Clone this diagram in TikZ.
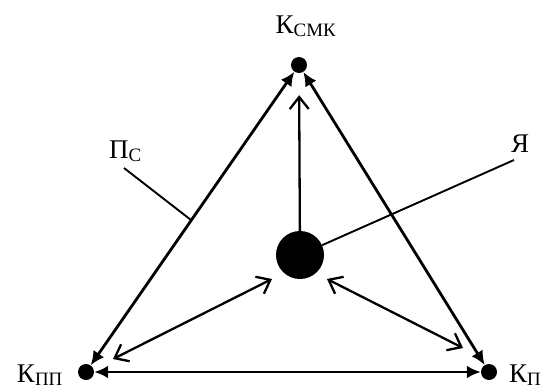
\documentclass[tikz,border=0pt]{standalone}
\usepackage{fontspec}
\setmainfont{Liberation Serif}
\usetikzlibrary{arrows.meta}

\begin{document}
\begin{tikzpicture}
    [x=1pt,y=-1pt,
     dot/.style={circle,fill=black,inner sep=0pt,minimum size=16pt},
     edge/.style={line width=2.8pt,{Latex[length=14pt,width=13pt]}-{Latex[length=14pt,width=13pt]}},
     link/.style={line width=2.3pt},
     barb/.tip={Straight Barb[length=12pt,width=19pt,line width=2.3pt]},
     pointer/.style={line width=1.9pt},
     lbl/.style={font=\fontsize{27}{30}\selectfont,inner sep=0pt}]
    \useasboundingbox (0,0) rectangle (546,391);
    % vertices
    \node[dot] (smk) at (299,65) {};
    \node[dot] (pp) at (86,372) {};
    \node[dot] (p) at (489,372) {};
    \node[dot,minimum size=48pt] (ya) at (300,255) {};
    % labels
    \node[lbl,anchor=base] (lsmk) at (306,33) {К\textsubscript{СМК}};
    \node[lbl,anchor=base east] (lpp) at (63,382) {К\textsubscript{ПП}};
    \node[lbl,anchor=base west] (lp) at (509,382) {К\textsubscript{П}};
    \node[lbl,anchor=base east] (lps) at (142,158) {П\textsubscript{С}};
    \node[lbl,anchor=base] (lya) at (520,152) {Я};
    %triangle
    \draw[edge] (pp) -- (smk);
    \draw[edge] (smk) -- (p);
    \draw[edge] (pp) -- (p);
    %arrows from the centre
    \draw[link,-barb,shorten >=22pt] (ya) -- (smk);
    \coordinate (a1) at (272,279);
    \coordinate (a2) at (113,359);
    \coordinate (b1) at (327,279);
    \coordinate (b2) at (463,348);
    \draw[link,barb-barb] (a1) -- (a2);
    \draw[link,barb-barb] (b1) -- (b2);
    %pointers
    \coordinate (ps1) at (124,168);
    \coordinate (ps2) at (191,220);
    \coordinate (ya1) at (514,160);
    \draw[pointer] (ps1) -- (ps2);
    \draw[pointer] (ya) -- (ya1);
\end{tikzpicture}
\end{document}
